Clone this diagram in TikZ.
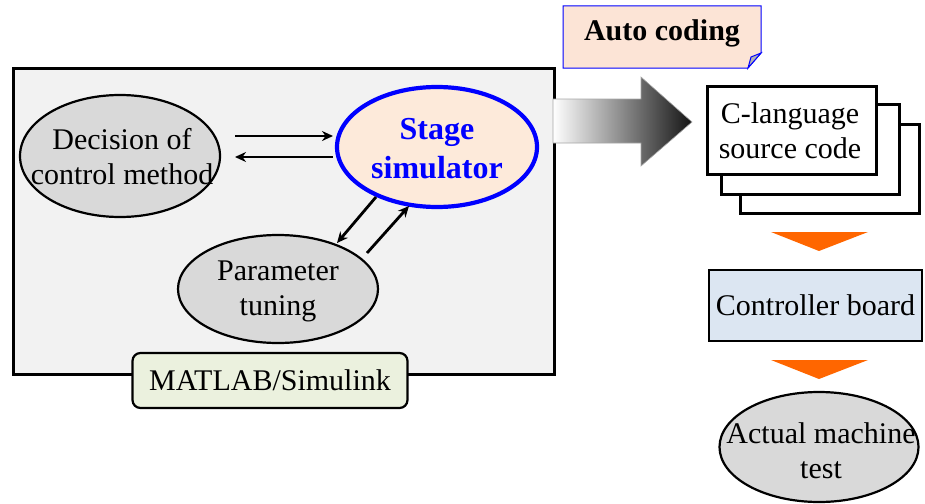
\documentclass[tikz,border=0pt]{standalone}
\usepackage{fontspec}
\setmainfont{Liberation Serif}
\usetikzlibrary{shapes.geometric,arrows.meta,calc}

\definecolor{panelfill}{HTML}{F2F2F2}
\definecolor{ovalgray}{HTML}{D9D9D9}
\definecolor{simpeach}{HTML}{FDEADA}
\definecolor{notefill}{HTML}{FCE4D6}
\definecolor{toolfill}{HTML}{EBF1DE}
\definecolor{boardfill}{HTML}{DCE6F2}
\definecolor{flowtip}{HTML}{FF6600}
\definecolor{simblue}{HTML}{0000FF}

\begin{document}
\begin{tikzpicture}[x=1pt,y=-1pt,
  txt/.style={font=\fontsize{30}{35}\selectfont, align=center, inner sep=0pt},
  oval/.style={ellipse, draw=black, line width=2.2pt, fill=ovalgray, inner sep=0pt},
  card/.style={draw=black, line width=2.8pt, fill=white, minimum width=169, minimum height=88, inner sep=0pt, anchor=north west},
  arr/.style={line width=2.8pt, -{Stealth[length=11pt,width=10pt]}},
  flowtri/.style={fill=flowtip, draw=none}]
\useasboundingbox (0,0) rectangle (925,503);

% MATLAB/Simulink work area
\node[draw=black, line width=2.8pt, fill=panelfill, minimum width=541, minimum height=306,
      inner sep=0pt, anchor=north west] (panel) at (12,67) {};

% ovals inside the work area (fixed size, text placed on top)
\node[oval, minimum width=200, minimum height=122] (dec) at (120,156) {};
\node[txt] (dect) at (122,157) {Decision of\\control method};
\node[ellipse, draw=simblue, line width=4.2pt, fill=simpeach, inner sep=0pt,
      minimum width=200, minimum height=120] (sim) at (437,147) {};
\node[txt, text=simblue, font=\fontsize{32}{39}\selectfont\bfseries] (simt) at (437,149) {Stage\\simulator};
\node[oval, minimum width=200, minimum height=108] (par) at (278,289) {};
\node[txt] (part) at (278,291) {Parameter\\tuning};

% tool label on the bottom edge
\node[txt, draw=black, line width=2.2pt, fill=toolfill, rounded corners=8pt,
      minimum width=275, minimum height=55] (tool) at (270,380.5) {MATLAB/Simulink};

% exchange arrows
\coordinate (d1) at (235,136);
\coordinate (s1) at (333,136);
\coordinate (s2) at (333,157);
\coordinate (d2) at (235,157);
\coordinate (s3) at (376,197);
\coordinate (p3) at (337,243);
\coordinate (p4) at (367,253);
\coordinate (s4) at (409,206);
\draw[arr] (d1) -- (s1);
\draw[arr] (s2) -- (d2);
\draw[arr] (s3) -- (p3);
\draw[arr] (p4) -- (s4);

% shaded code-generation arrow
\shade[left color=white, right color=black!92, draw=gray!70, line width=0.6pt]
  (553,99) -- (641,99) -- (641,77) -- (692,122) -- (641,166) -- (641,143) -- (553,143) -- cycle;

% "Auto coding" note with a folded corner
\draw[draw=simblue, line width=1pt, fill=notefill]
  (563,6) -- (761,6) -- (761,53) -- (748,68) -- (563,68) -- cycle;
\fill[gray!60, draw=simblue, line width=1pt] (761,53) -- (751,57) -- (748,68) -- cycle;
\node[txt, font=\fontsize{30}{35}\selectfont\bfseries] (note) at (662,33) {Auto coding};

% stack of source-code sheets
\node[card, minimum width=179, minimum height=89] (c3) at (739,123) {};
\node[card, minimum width=178, minimum height=90] (c2) at (720,103) {};
\node[card] (c1) at (706,85) {};
\node[txt] (code) at (790,131) {C-language\\source code};

% downstream flow
\path[flowtri] (771,232) -- (868,232) -- (819,251) -- cycle;
\node[txt, draw=black, line width=2.8pt, fill=boardfill, minimum width=213, minimum height=71]
      (board) at (815.5,305.5) {Controller board};
\path[flowtri] (771,360) -- (868,360) -- (819,379) -- cycle;
\node[oval, minimum width=199, minimum height=110] (test) at (819,447) {};
\node[txt] (testt) at (821,451) {Actual machine\\test};
\end{tikzpicture}
\end{document}
